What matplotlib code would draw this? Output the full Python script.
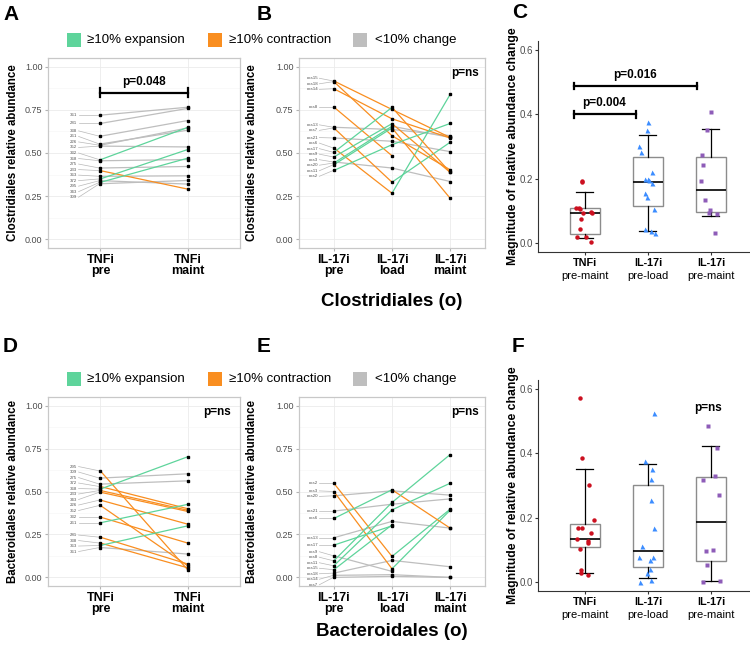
import numpy as np
import matplotlib.pyplot as plt
from matplotlib.patches import Rectangle

plt.rcParams['font.family'] = ['Liberation Sans', 'DejaVu Sans']

GREEN = '#5ED49B'
ORANGE = '#F98E20'
GREY = '#BEBEBE'

# ---- A: Clostridiales, TNFi (pre -> maint)
a_ids = ['361', '281', '338', '261', '226', '352', '332', '368', '275', '233', '363', '372', '295', '343', '309']
a_pre = [0.719, 0.671, 0.597, 0.552, 0.545, 0.540, 0.461, 0.455, 0.413, 0.398, 0.365, 0.350, 0.340, 0.330, 0.322]
a_maint = [0.765, 0.758, 0.688, 0.632, 0.645, 0.535, 0.648, 0.462, 0.422, 0.291, 0.368, 0.520, 0.320, 0.470, 0.341]

# ---- B: Clostridiales, IL-17i (pre -> load -> maint)
b_ids = ['cos15', 'cos18', 'cos14', 'cos8', 'cos13', 'cos7', 'cos21', 'cos6', 'cos17', 'cos9', 'cos3', 'cos20', 'cos11', 'cos2']
b_pre = [0.917, 0.913, 0.872, 0.766, 0.649, 0.645, 0.587, 0.529, 0.504, 0.477, 0.448, 0.442, 0.432, 0.399]
b_load = [0.752, 0.600, 0.698, 0.484, 0.636, 0.331, 0.568, 0.267, 0.764, 0.670, 0.413, 0.655, 0.645, 0.548]
b_maint = [0.590, 0.403, 0.587, np.nan, 0.601, 0.562, 0.508, 0.839, 0.388, 0.388, 0.335, 0.590, 0.238, 0.671]

# ---- D: Bacteroidales, TNFi
d_ids = ['295', '309', '275', '372', '368', '233', '343', '226', '352', '332', '261', '281', '338', '363', '361']
d_pre = [0.620, 0.578, 0.543, 0.529, 0.514, 0.506, 0.496, 0.450, 0.419, 0.351, 0.318, 0.234, 0.200, 0.186, 0.174]
d_maint = [0.045, 0.603, 0.562, 0.400, 0.702, 0.391, 0.384, 0.310, 0.068, 0.200, 0.425, 0.078, 0.056, 0.300, 0.136]

# ---- E: Bacteroidales, IL-17i
e_ids = ['cos2', 'cos3', 'cos20', 'cos21', 'cos6', 'cos13', 'cos17', 'cos9', 'cos8', 'cos11', 'cos15', 'cos18', 'cos14', 'cos7']
e_pre = [0.548, 0.500, 0.475, 0.386, 0.343, 0.231, 0.188, 0.126, 0.097, 0.068, 0.045, 0.025, 0.012, 0.000]
e_load = [0.122, 0.050, 0.504, 0.426, 0.510, 0.326, 0.300, 0.035, 0.436, 0.393, 0.306, 0.099, 0.016, 0.006]
e_maint = [0.397, 0.391, 0.479, 0.457, 0.287, 0.287, np.nan, np.nan, 0.715, 0.548, np.nan, 0.062, 0.000, 0.000]

# ---- C / F: magnitude of change, box stats [whislo, q1, med, q3, whishi]
box_groups = ['TNFi', 'IL-17i', 'IL-17i']
box_sub = ['pre-maint', 'pre-load', 'pre-maint']

c_box = [[0.017, 0.028, 0.092, 0.108, 0.158],
         [0.037, 0.114, 0.191, 0.266, 0.335],
         [0.084, 0.097, 0.164, 0.266, 0.355]]
c_tnfi = [0.194, 0.190, 0.108, 0.108, 0.107, 0.095, 0.094, 0.093, 0.076, 0.045, 0.018, 0.018, 0.004]
c_tnfi_dx = [-0.04, -0.05, -0.14, -0.10, -0.08, 0.09, -0.03, 0.11, -0.06, -0.08, -0.12, 0.02, 0.09]
c_load = [0.377, 0.351, 0.302, 0.283, 0.221, 0.198, 0.198, 0.195, 0.187, 0.154, 0.143, 0.107, 0.045, 0.036, 0.032]
c_load_dx = [0.0, -0.02, -0.14, -0.11, 0.06, -0.05, 0.0, 0.01, 0.06, -0.04, -0.01, 0.09, -0.05, 0.05, 0.11]
c_maint = [0.408, 0.351, 0.273, 0.243, 0.192, 0.135, 0.104, 0.093, 0.091, 0.032]
c_maint_dx = [0.0, -0.07, -0.14, -0.13, -0.16, -0.10, -0.02, -0.03, 0.09, 0.06]

f_box = [[0.029, 0.110, 0.133, 0.180, 0.352],
         [0.011, 0.047, 0.095, 0.303, 0.366],
         [0.002, 0.066, 0.185, 0.326, 0.424]]
f_tnfi = [0.573, 0.386, 0.302, 0.193, 0.169, 0.169, 0.151, 0.133, 0.128, 0.121, 0.104, 0.036, 0.027, 0.021]
f_tnfi_dx = [-0.08, -0.04, 0.06, 0.14, -0.11, -0.05, 0.09, -0.12, 0.04, 0.04, -0.08, -0.06, -0.06, 0.05]
f_load = [0.524, 0.376, 0.350, 0.321, 0.255, 0.168, 0.111, 0.078, 0.078, 0.069, 0.040, 0.027, 0.006, 0.000]
f_load_dx = [0.10, -0.04, 0.07, 0.05, 0.05, 0.09, -0.09, -0.14, 0.08, 0.04, 0.03, -0.02, 0.05, -0.12]
f_maint = [0.484, 0.417, 0.330, 0.318, 0.271, 0.101, 0.097, 0.054, 0.002, 0.000]
f_maint_dx = [-0.04, 0.09, 0.06, -0.13, 0.13, 0.03, -0.08, -0.07, 0.14, -0.12]

W, H = 750, 654
fig = plt.figure(figsize=(7.5, 6.54), dpi=100)


def axes_px(left, top, right, bottom):
    return fig.add_axes([left / W, 1 - bottom / H, (right - left) / W, (bottom - top) / H])


def repel(vals, gap, n_iter=500):
    vals = np.asarray(vals, float)
    order = np.argsort(-vals)
    y = vals[order].copy()
    for _ in range(n_iter):
        moved = False
        for j in range(len(y) - 1):
            d = y[j] - y[j + 1]
            if d < gap - 1e-9:
                s = (gap - d) / 2
                y[j] += s
                y[j + 1] -= s
                moved = True
        if not moved:
            break
    out = np.empty_like(y)
    out[order] = y
    return out


def paired_panel(ax, series, ids, cats, ylabel, ylab_x):
    xs = np.arange(1, len(series) + 1)
    for k in range(len(series) - 1):
        for y0, y1 in zip(series[k], series[k + 1]):
            if np.isnan(y0) or np.isnan(y1):
                continue
            d = y1 - y0
            if d >= 0.1:
                col, z = GREEN, 3
            elif d <= -0.1:
                col, z = ORANGE, 3
            else:
                col, z = GREY, 2
            ax.plot([xs[k], xs[k + 1]], [y0, y1], color=col, lw=0.9, zorder=z)
    for k, s in enumerate(series):
        s = np.asarray(s, float)
        ax.plot(np.full(len(s), xs[k]), s, 's', ms=1.8, color='black', zorder=4)

    first = np.asarray(series[0], float)
    lab_y = repel(first, 0.032)
    for name, v, ly in zip(ids, first, lab_y):
        ax.plot([0.75, 0.99], [ly, v], color='#B8B8B8', lw=0.5, zorder=1)
        ax.text(0.73, ly, name, fontsize=3.2, color='#555555', ha='right', va='center')

    ax.set_xlim(0.4, len(series) + 0.6)
    ax.set_ylim(-0.05, 1.05)
    ax.set_yticks([0, 0.25, 0.5, 0.75, 1.0])
    ax.set_yticklabels(['0.00', '0.25', '0.50', '0.75', '1.00'])
    ax.set_yticks([0.125, 0.375, 0.625, 0.875], minor=True)
    ax.grid(which='major', color='#EBEBEB', lw=0.6)
    ax.grid(which='minor', axis='y', color='#F5F5F5', lw=0.4)
    ax.set_axisbelow(True)
    ax.set_xticks(xs)
    ax.set_xticklabels(cats, fontweight='bold', linespacing=0.95)
    ax.tick_params(axis='both', which='major', length=2, color='#B3B3B3', pad=2)
    ax.tick_params(axis='y', which='minor', length=0)
    ax.tick_params(axis='y', labelsize=6.5, labelcolor='#4D4D4D')
    ax.tick_params(axis='x', labelsize=9, labelcolor='black')
    for sp in ax.spines.values():
        sp.set_color('#C8C8C8')
        sp.set_linewidth(0.9)
    ax.set_ylabel(ylabel, fontweight='bold', fontsize=8.3)
    ax.yaxis.set_label_coords(ylab_x, 0.5)


def box_panel(ax, boxes, groups, ylab_x):
    stats = [dict(whislo=b[0], q1=b[1], med=b[2], q3=b[3], whishi=b[4]) for b in boxes]
    ax.bxp(stats, positions=[1, 2, 3], widths=0.49, showfliers=False, patch_artist=True,
           boxprops=dict(facecolor='white', edgecolor='#8C8C8C', lw=1.0),
           whiskerprops=dict(color='black', lw=0.9),
           capprops=dict(color='black', lw=0.9),
           medianprops=dict(color='black', lw=1.2),
           capwidths=0.27, zorder=2)
    styles = [('o', '#CC1020', 3.2), ('^', '#3C8DFF', 3.6), ('s', '#8E5CB8', 3.2)]
    for i, (vals, dx) in enumerate(groups):
        m, c, ms = styles[i]
        ax.plot(i + 1 + np.asarray(dx), vals, m, color=c, ms=ms, mec='none', zorder=4)

    ax.set_xlim(0.254, 3.62)
    ax.set_ylim(-0.028, 0.628)
    ax.set_yticks([0, 0.2, 0.4, 0.6])
    ax.set_yticklabels(['0.0', '0.2', '0.4', '0.6'])
    ax.set_xticks([1, 2, 3])
    ax.set_xticklabels(['', '', ''])
    ax.tick_params(length=2, color='#333333', labelsize=7, labelcolor='#4D4D4D', pad=1.5)
    for sp in ['top', 'right']:
        ax.spines[sp].set_visible(False)
    for sp in ['left', 'bottom']:
        ax.spines[sp].set_color('#333333')
        ax.spines[sp].set_linewidth(0.8)
    for i in range(3):
        ax.annotate(box_groups[i], xy=(i + 1, 0), xycoords=('data', 'axes fraction'),
                    xytext=(0, -8), textcoords='offset points', ha='center', va='center',
                    fontsize=7.8, fontweight='bold')
        ax.annotate(box_sub[i], xy=(i + 1, 0), xycoords=('data', 'axes fraction'),
                    xytext=(0, -17.5), textcoords='offset points', ha='center', va='center',
                    fontsize=8)
    ax.set_ylabel('Magnitude of relative abundance change', fontweight='bold', fontsize=8.8)
    ax.yaxis.set_label_coords(ylab_x, 0.5)


def sig_bar(ax, x0, x1, y, text, ty, tx, cap):
    ax.plot([x0, x1], [y, y], color='black', lw=1.6, zorder=5)
    for x in (x0, x1):
        ax.plot([x, x], [y - cap, y + cap], color='black', lw=1.6, zorder=5)
    ax.text(tx, ty, text, ha='center', va='center', fontsize=8.5, fontweight='bold')


tnfi_cats = ['TNFi\npre', 'TNFi\nmaint']
il17_cats = ['IL-17i\npre', 'IL-17i\nload', 'IL-17i\nmaint']

# top row
axA = axes_px(48, 58, 240, 248)
paired_panel(axA, [np.array(a_pre), np.array(a_maint)], a_ids, tnfi_cats,
             'Clostridiales relative abundance', -0.15)
sig_bar(axA, 1, 2, 0.85, 'p=0.048', 0.91, 1.5, 0.025)

axB = axes_px(299, 58, 485, 248)
paired_panel(axB, [np.array(b_pre), np.array(b_load), np.array(b_maint)], b_ids, il17_cats,
             'Clostridiales relative abundance', -0.22)
axB.text(3.5, 0.965, 'p=ns', ha='right', va='center', fontsize=8.5, fontweight='bold')

axC = axes_px(538, 41, 750, 252)
box_panel(axC, c_box, [(c_tnfi, c_tnfi_dx), (c_load, c_load_dx), (c_maint, c_maint_dx)], -0.088)
sig_bar(axC, 0.825, 1.81, 0.40, 'p=0.004', 0.434, 1.30, 0.01)
sig_bar(axC, 0.825, 2.78, 0.488, 'p=0.016', 0.521, 1.79, 0.01)

# bottom row
axD = axes_px(48, 397, 240, 586)
paired_panel(axD, [np.array(d_pre), np.array(d_maint)], d_ids, tnfi_cats,
             'Bacteroidales relative abundance', -0.15)
axD.text(2.5, 0.965, 'p=ns', ha='right', va='center', fontsize=8.5, fontweight='bold')

axE = axes_px(299, 397, 485, 586)
paired_panel(axE, [np.array(e_pre), np.array(e_load), np.array(e_maint)], e_ids, il17_cats,
             'Bacteroidales relative abundance', -0.22)
axE.text(3.5, 0.965, 'p=ns', ha='right', va='center', fontsize=8.5, fontweight='bold')

axF = axes_px(538, 380, 750, 591)
box_panel(axF, f_box, [(f_tnfi, f_tnfi_dx), (f_load, f_load_dx), (f_maint, f_maint_dx)], -0.088)
axF.text(2.95, 0.54, 'p=ns', ha='center', va='center', fontsize=8.5, fontweight='bold')

# legends
for ly in (40, 379):
    for x0, tx, col, lab in [(67, 87, GREEN, '≥10% expansion'),
                             (208, 229, ORANGE, '≥10% contraction'),
                             (353, 375, GREY, '<10% change')]:
        fig.add_artist(Rectangle((x0 / W, 1 - (ly + 7) / H), 14 / W, 14 / H,
                                 transform=fig.transFigure, facecolor=col, edgecolor='none'))
        fig.text(tx / W, 1 - ly / H, lab, fontsize=9.5, va='center', ha='left')

# panel letters and section titles
for lab, x, y in [('A', 3, 14), ('B', 257, 14), ('C', 512, 12),
                  ('D', 3, 347), ('E', 257, 347), ('F', 512, 346)]:
    fig.text(x / W, 1 - y / H, lab, fontsize=15, fontweight='bold', va='center', ha='left')
fig.text(392 / W, 1 - 301 / H, 'Clostridiales (o)', fontsize=13.5, fontweight='bold', ha='center', va='center')
fig.text(392 / W, 1 - 632 / H, 'Bacteroidales (o)', fontsize=13.5, fontweight='bold', ha='center', va='center')

fig.savefig('out.png', dpi=100, facecolor='white')
